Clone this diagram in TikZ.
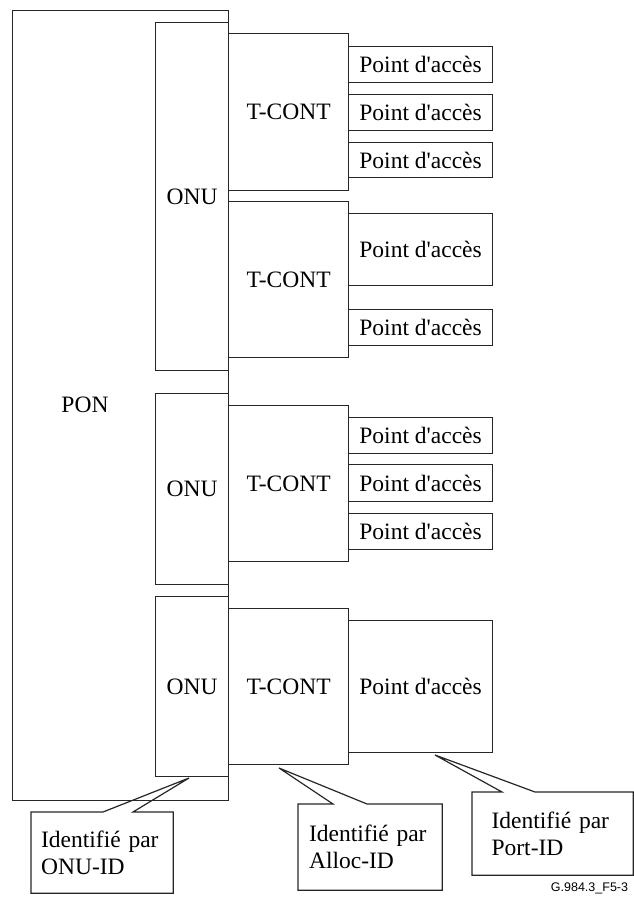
\documentclass[tikz,border=0pt]{standalone}
\usepackage{fontspec}
\setmainfont{Liberation Serif}
\newfontfamily\figfont{Liberation Sans}
\usetikzlibrary{calc}
\tikzset{blk/.style={draw, rectangle, anchor=north west, inner sep=0pt},
  callout/.style={rectangle, anchor=north west, inner sep=0pt, text width=122pt, align=left}}
\def\pa{Point d\textquotesingle acc\`es}

\begin{document}
\begin{tikzpicture}[x=1pt, y=-1pt, line width=1.2pt, draw=black!85, font=\fontsize{23.5}{27}\selectfont]
        \useasboundingbox (0,0) rectangle (634,897);

          %PON
          \node[blk, minimum width=216pt, minimum height=790pt] (pon) at (12,10) {};
          \node (ponlabel) at (85,405) {PON};

          %ONU 1
          \node[blk, minimum width=73pt, minimum height=348pt] (onu1) at (155,22) {ONU};
          \node[blk, minimum width=120pt, minimum height=157pt] (tc1) at (228,33) {T-CONT};
          \node[blk, minimum width=144pt, minimum height=36pt] (p11) at (348,46) {\pa};
          \node[blk, minimum width=144pt, minimum height=36pt] (p12) at (348,94) {\pa};
          \node[blk, minimum width=144pt, minimum height=35pt] (p13) at (348,142) {\pa};
          \node[blk, minimum width=120pt, minimum height=156pt] (tc2) at (228,201) {T-CONT};
          \node[blk, minimum width=144pt, minimum height=72pt] (p21) at (348,213) {\pa};
          \node[blk, minimum width=144pt, minimum height=36pt] (p22) at (348,309) {\pa};

          %ONU 2
          \node[blk, minimum width=73pt, minimum height=191pt] (onu2) at (155,393) {ONU};
          \node[blk, minimum width=120pt, minimum height=156pt] (tc3) at (228,405) {T-CONT};
          \node[blk, minimum width=144pt, minimum height=36pt] (p31) at (348,417) {\pa};
          \node[blk, minimum width=144pt, minimum height=37pt] (p32) at (348,464) {\pa};
          \node[blk, minimum width=144pt, minimum height=36pt] (p33) at (348,513) {\pa};

          %ONU 3
          \node[blk, minimum width=73pt, minimum height=180pt] (onu3) at (155,596) {ONU};
          \node[blk, minimum width=120pt, minimum height=156pt] (tc4) at (228,608) {T-CONT};
          \node[blk, minimum width=144pt, minimum height=132pt] (p41) at (348,620) {\pa};

          %ONU-ID
          \coordinate (tip1) at (189,778);
          \node[callout, minimum width=141pt, minimum height=80pt] (id1) at (31,812) {Identifié par\\ONU-ID};
          \draw (id1.north west) -- ($(id1.north west)+(72,0)$) -- (tip1) -- ($(id1.north west)+(102,0)$)
                -- (id1.north east) -- (id1.south east) -- (id1.south west) -- cycle;

          %Alloc-ID
          \coordinate (tip2) at (279,768);
          \node[callout, minimum width=143pt, minimum height=85pt] (id2) at (298,804) {Identifié par\\Alloc-ID};
          \draw (id2.north west) -- ($(id2.north west)+(35,0)$) -- (tip2) -- ($(id2.north west)+(69,0)$)
                -- (id2.north east) -- (id2.south east) -- (id2.south west) -- cycle;

          %Port-ID
          \coordinate (tip3) at (435,755);
          \node[callout, minimum width=160pt, minimum height=82pt] (id3) at (472,792) {Identifié par\\Port-ID};
          \draw (id3.north west) -- ($(id3.north west)+(30,0)$) -- (tip3) -- ($(id3.north west)+(63,0)$)
                -- (id3.north east) -- (id3.south east) -- (id3.south west) -- cycle;

          \node[anchor=east, font=\figfont\fontsize{12.5}{14}\selectfont] (figid) at (632,888) {G.984.3\_F5-3};

        \end{tikzpicture}
\end{document}
